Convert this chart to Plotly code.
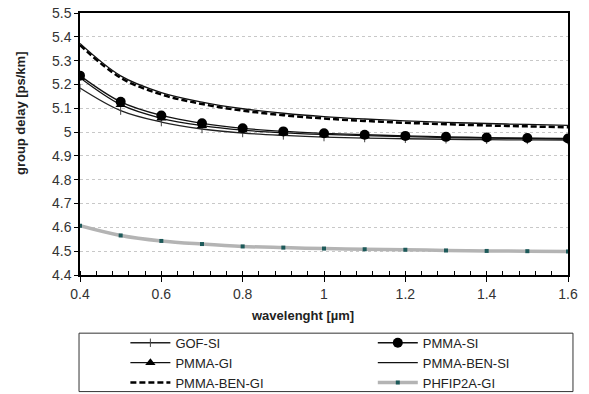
import plotly.graph_objects as go

wavelength = [0.4, 0.5, 0.6, 0.7, 0.8, 0.9, 1.0, 1.1, 1.2, 1.3, 1.4, 1.5, 1.6]

gof_si = [5.185, 5.090, 5.042, 5.013, 4.996, 4.986, 4.979, 4.975, 4.972, 4.970, 4.968, 4.967, 4.966]
pmma_si = [5.237, 5.127, 5.070, 5.037, 5.016, 5.003, 4.995, 4.989, 4.984, 4.980, 4.977, 4.975, 4.973]
pmma_gi = [5.228, 5.115, 5.058, 5.027, 5.008, 4.997, 4.990, 4.985, 4.981, 4.977, 4.975, 4.973, 4.971]
pmma_ben_si = [5.372, 5.236, 5.166, 5.126, 5.098, 5.079, 5.065, 5.055, 5.047, 5.041, 5.036, 5.032, 5.028]
pmma_ben_gi = [5.365, 5.228, 5.158, 5.118, 5.090, 5.071, 5.057, 5.047, 5.039, 5.033, 5.028, 5.024, 5.020]
phfip2a_gi = [4.607, 4.566, 4.543, 4.530, 4.520, 4.515, 4.511, 4.508, 4.506, 4.503, 4.501, 4.500, 4.499]

y_ticks = [4.4, 4.5, 4.6, 4.7, 4.8, 4.9, 5.0, 5.1, 5.2, 5.3, 5.4, 5.5]
y_labels = ["4.4", "4.5", "4.6", "4.7", "4.8", "4.9", "5", "5.1", "5.2", "5.3", "5.4", "5.5"]
x_ticks = [0.4, 0.6, 0.8, 1.0, 1.2, 1.4, 1.6]
x_labels = ["0.4", "0.6", "0.8", "1", "1.2", "1.4", "1.6"]

x_title = "wavelenght [µm]"
y_title = "group delay [ps/km]"

FONT = "Liberation Sans, Arial, sans-serif"

fig = go.Figure()

fig.add_trace(go.Scatter(
    x=wavelength, y=gof_si, name="GOF-SI", mode="lines+markers", legend="legend",
    line=dict(color="#222222", width=1.3, shape="spline"),
    marker=dict(symbol="line-ns", size=6, line=dict(color="#444444", width=1), color="#444444"),
))
fig.add_trace(go.Scatter(
    x=wavelength, y=pmma_gi, name="PMMA-GI", mode="lines+markers", legend="legend",
    line=dict(color="#111111", width=1.3, shape="spline"),
    marker=dict(symbol="triangle-up", size=9, color="#000000"),
))
fig.add_trace(go.Scatter(
    x=wavelength, y=pmma_ben_gi, name="PMMA-BEN-GI", mode="lines", legend="legend",
    line=dict(color="#000000", width=2.5, dash="6px,3px", shape="spline"),
))
fig.add_trace(go.Scatter(
    x=wavelength, y=pmma_si, name="PMMA-SI", mode="lines+markers", legend="legend2",
    line=dict(color="#111111", width=1.3, shape="spline"),
    marker=dict(symbol="circle", size=10, color="#000000"),
))
fig.add_trace(go.Scatter(
    x=wavelength, y=pmma_ben_si, name="PMMA-BEN-SI", mode="lines", legend="legend2",
    line=dict(color="#111111", width=1.3, shape="spline"),
))
fig.add_trace(go.Scatter(
    x=wavelength, y=phfip2a_gi, name="PHFIP2A-GI", mode="lines+markers", legend="legend2",
    line=dict(color="#b4b4b4", width=3.5, shape="spline"),
    marker=dict(symbol="square", size=4, color="#1d5a5a"),
))

legend_common = dict(
    orientation="v", yref="container", y=0.168, yanchor="top", xanchor="left",
    bgcolor="rgba(0,0,0,0)", borderwidth=0,
    font=dict(family=FONT, size=13, color="#222222"),
    tracegroupgap=0, itemwidth=40,
)

fig.update_layout(
    width=589, height=394,
    margin=dict(l=80, r=21, t=13, b=119, autoexpand=False),
    paper_bgcolor="white", plot_bgcolor="white",
    font=dict(family=FONT, color="#333333", size=13),
    showlegend=True,
    legend=dict(legend_common, x=0.093),
    legend2=dict(legend_common, x=0.60),
    shapes=[dict(type="rect", xref="paper", yref="paper",
                 x0=-0.002, x1=1.0102, y0=-0.445, y1=-0.222,
                 line=dict(color="#333333", width=1), fillcolor="rgba(0,0,0,0)")],
    annotations=[
        dict(text="<b>" + x_title + "</b>", xref="paper", yref="paper",
             x=0.455, y=-0.153, xanchor="center", yanchor="middle", showarrow=False,
             font=dict(family=FONT, size=13, color="#222222")),
        dict(text="<b>" + y_title + "</b>", xref="paper", yref="paper", textangle=-90,
             x=-0.123, y=0.618, xanchor="center", yanchor="middle", showarrow=False,
             font=dict(family=FONT, size=13, color="#222222")),
    ],
    xaxis=dict(
        range=[0.4, 1.6], tickvals=x_ticks, ticktext=x_labels, automargin=False,
        showline=True, linecolor="#000000", linewidth=1.5, mirror=True,
        ticks="outside", ticklen=5, tickcolor="#000000",
        minor=dict(dtick=0.04, ticks="inside", ticklen=4, tickcolor="#000000", showgrid=False),
        showgrid=False, zeroline=False,
        tickfont=dict(size=14, color="#333333"),
    ),
    yaxis=dict(
        range=[4.4, 5.5], tickvals=y_ticks, ticktext=y_labels, automargin=False,
        showline=True, linecolor="#000000", linewidth=1.5, mirror=True,
        ticks="outside", ticklen=4, tickcolor="#000000",
        showgrid=True, gridcolor="#c8c8c8", griddash="dot", gridwidth=1,
        zeroline=False,
        tickfont=dict(size=14, color="#333333"),
    ),
)

fig.write_html("out.html", config={"displayModeBar": False},
               post_script="document.body.style.margin='0';document.body.style.overflow='hidden';")
